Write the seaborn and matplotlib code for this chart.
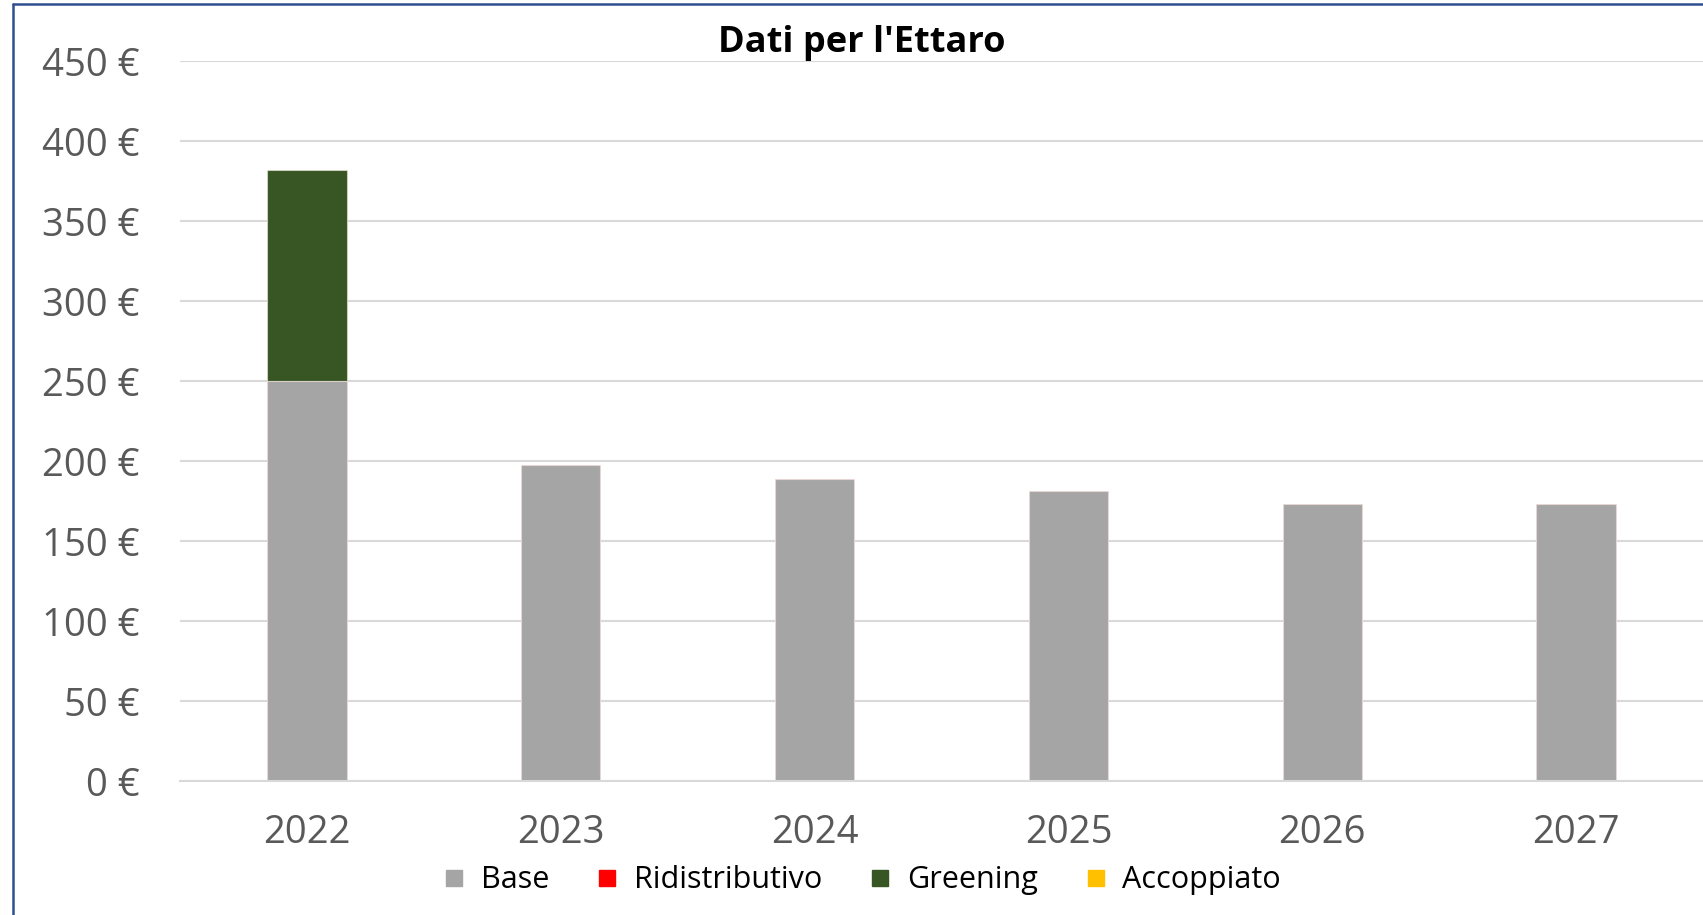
import pandas as pd
import matplotlib
matplotlib.use("Agg")
import matplotlib.pyplot as plt
from matplotlib.lines import Line2D
import seaborn as sns

# Values (euro per hectare)
years = ['2022', '2023', '2024', '2025', '2026', '2027']
base = [250, 197.5, 189, 181, 173, 173]
ridistributivo = [0, 0, 0, 0, 0, 0]
greening = [132, 0, 0, 0, 0, 0]
accoppiato = [0, 0, 0, 0, 0, 0]

series = ['Base', 'Ridistributivo', 'Greening', 'Accoppiato']
colors = {'Base': '#A5A5A5', 'Ridistributivo': '#FF0000',
          'Greening': '#375623', 'Accoppiato': '#FFC000'}

df = pd.DataFrame({'Anno': years, 'Base': base, 'Ridistributivo': ridistributivo,
                   'Greening': greening, 'Accoppiato': accoppiato})

# cumulative totals so the layers can be drawn as a stack
cum = df[series].cumsum(axis=1)
cum['Anno'] = df['Anno']

sns.set_theme(style='white')
plt.rcParams['font.family'] = ['Open Sans', 'DejaVu Sans']

fig = plt.figure(figsize=(17.03, 9.15), dpi=100)
ax = fig.add_axes([180 / 1703, 134 / 915, 1523 / 1703, 720 / 915])

# tallest layer first, base last
for s in reversed(series):
    sns.barplot(data=cum, x='Anno', y=s, color=colors[s], width=0.313,
                saturation=1, ax=ax, linewidth=0.8, edgecolor='#ffffff80')

ax.set_ylim(0, 450)
ax.set_xlim(-0.5, 5.5)
ax.set_yticks(range(0, 451, 50))
ax.set_yticklabels([f'{v} €' for v in range(0, 451, 50)])
ax.set_xlabel('')
ax.set_ylabel('')
ax.yaxis.grid(True, color='#D9D9D9', linewidth=1.5)
ax.set_axisbelow(True)
for sp in ['top', 'right', 'left']:
    ax.spines[sp].set_visible(False)
ax.spines['bottom'].set_color('#D9D9D9')
ax.spines['bottom'].set_linewidth(1.5)
ax.tick_params(axis='y', length=0, pad=29, labelsize=27.5, labelcolor='#595959')
ax.tick_params(axis='x', length=0, pad=24, labelsize=27.5, labelcolor='#595959')

fig.text(0.506, 1 - 43 / 915, "Dati per l'Ettaro", ha='center', va='center',
         fontsize=26, fontweight='bold', color='black')

handles = [Line2D([], [], marker='s', linestyle='', markersize=11,
                  markerfacecolor=colors[s], markeredgecolor=colors[s]) for s in series]
fig.legend(handles, series, loc='center', bbox_to_anchor=(0.505, 0.038), ncol=4,
           frameon=False, fontsize=22, handlelength=1.0, handletextpad=0.37,
           columnspacing=1.4, labelcolor='black')

# chart frame (left and top edges visible)
frame = '#2F4F8F'
fig.add_artist(Line2D([13 / 1703, 13 / 1703], [0, 1 - 4 / 915], color=frame, linewidth=1.8,
                      transform=fig.transFigure))
fig.add_artist(Line2D([13 / 1703, 1], [1 - 4 / 915, 1 - 4 / 915], color=frame, linewidth=1.8,
                      transform=fig.transFigure))

fig.savefig('out.png', dpi=100)
